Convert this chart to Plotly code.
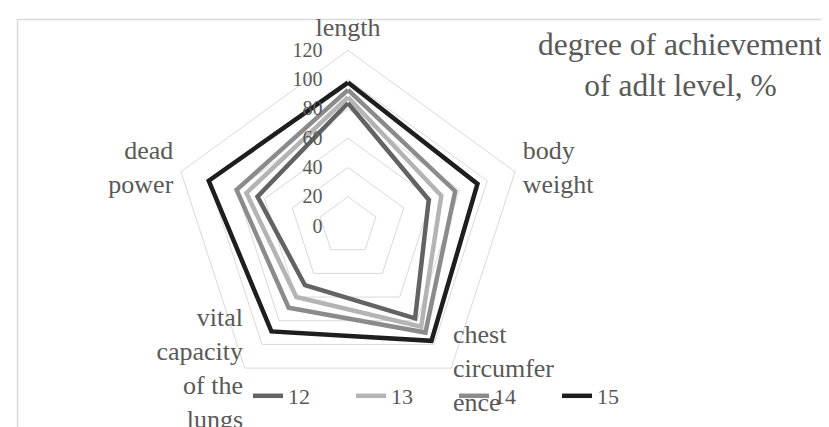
import plotly.graph_objects as go

categories = ["length", "body weight", "chest circumference", "vital capacity of the lungs", "dead power"]
category_labels = ["length", "body<br>weight", "chest<br>circumfer<br>ence", "vital<br>capacity<br>of the<br>lungs", "dead<br>power"]
series_names = ["12", "13", "14", "15"]
values_12 = [84, 58, 78, 50, 65]
values_13 = [88, 67, 85, 60, 73]
values_14 = [93, 77, 90, 69, 80]
values_15 = [98, 93, 97, 89, 100]
radial_ticks = [0, 20, 40, 60, 80, 100, 120]

# label placement (style only)
label_r = [125.5, 125.5, 122, 122, 125.5]
label_pos = ["top center", "middle right", "middle right", "middle left", "middle left"]

colors = ["#636363", "#b4b4b4", "#8b8b8b", "#1e1e1e"]
all_values = [values_12, values_13, values_14, values_15]

W, H = 829, 427
RMAX = 130
cx, cy = 340, 218
R = 190.3

font_family = "Liberation Serif, Times New Roman, serif"
txt = "#595959"

fig = go.Figure()
for name, vals, col in zip(series_names, all_values, colors):
    fig.add_trace(go.Scatterpolar(
        r=vals + vals[:1], theta=categories + categories[:1],
        mode="lines", name=name,
        line=dict(color=col, width=4.5),
    ))

fig.add_trace(go.Scatterpolar(
    r=label_r, theta=categories, mode="text", text=category_labels,
    textposition=label_pos, showlegend=False, cliponaxis=False,
    textfont=dict(size=26, color=txt, family=font_family),
    hoverinfo="skip",
))

fig.update_layout(
    width=W, height=H,
    margin=dict(l=0, r=0, t=0, b=0),
    paper_bgcolor="white",
    plot_bgcolor="white",
    font=dict(family=font_family, color=txt, size=22),
    polar=dict(
        domain=dict(x=[(cx - R) / W, (cx + R) / W], y=[max(0, (H - cy - R) / H), (H - cy + R) / H]),
        bgcolor="white",
        gridshape="linear",
        radialaxis=dict(
            range=[0, RMAX], tickvals=radial_ticks, angle=90, tickangle=90,
            showline=False, ticks="outside", ticklen=18, tickcolor="rgba(0,0,0,0)",
            gridcolor="#d9d9d9", gridwidth=1.3,
            tickfont=dict(size=20, color=txt), side="counterclockwise",
        ),
        angularaxis=dict(
            rotation=90, direction="clockwise", showgrid=False,
            showline=False, ticks="", showticklabels=False,
        ),
    ),
    legend=dict(
        orientation="h", x=446 / W, xanchor="center", y=39 / H, yanchor="middle",
        font=dict(size=22, color=txt), bgcolor="rgba(0,0,0,0)",
        entrywidth=58, entrywidthmode="pixels",
    ),
    showlegend=True,
    annotations=[dict(
        text="degree of achievement<br>of adlt level, %",
        x=672 / W, y=1 - 57 / H, xref="paper", yref="paper",
        xanchor="center", yanchor="middle",
        showarrow=False, align="center",
        font=dict(size=31.5, color=txt, family=font_family),
    )],
    shapes=[dict(
        type="rect", xref="paper", yref="paper",
        x0=9.5 / W, x1=1.05, y0=-0.05, y1=1 - 11.5 / H,
        line=dict(color="#d9d9d9", width=1.5), layer="below",
    )],
)

fig.write_html("out.html")
